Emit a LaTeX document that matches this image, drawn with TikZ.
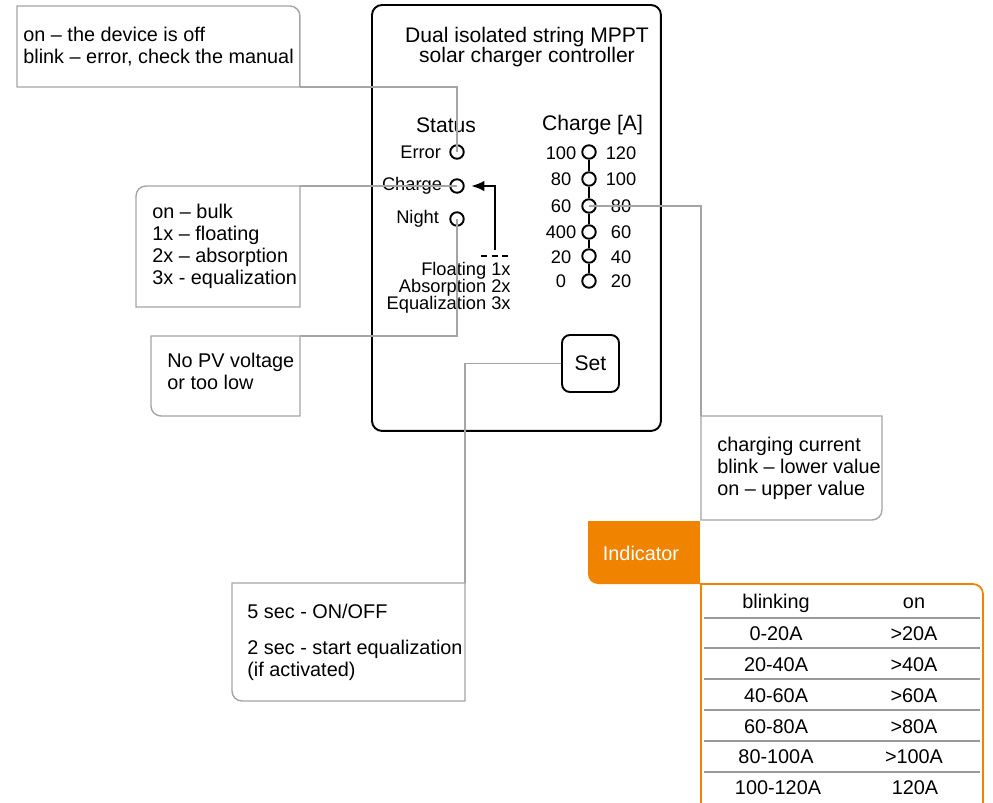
\documentclass[tikz,border=0pt]{standalone}
\usepackage{fontspec}
\setmainfont{Liberation Sans}
\usetikzlibrary{positioning,arrows.meta}
\definecolor{linkgray}{RGB}{165,165,165}
\definecolor{indorange}{RGB}{240,131,0}
\def\notefont{\fontsize{11.3}{12.5}\selectfont}
\def\ledfont{\fontsize{10.4}{12}\selectfont}
\def\titlefont{\fontsize{12}{11.3}\selectfont\lineskiplimit=-20pt\relax}
\def\modefont{\fontsize{10.4}{9.8}\selectfont\lineskiplimit=-20pt\relax}
\tikzset{
	device/.style={draw, line width=1.1pt, rounded corners=0.2cm, inner sep=0, outer sep=0},
	area/.style={inner sep=0, outer sep=0},
	note/.style={draw=linkgray, line width=0.8pt},
	link/.style={draw=linkgray, line width=0.8pt},
	notetext/.style={inner sep=0, align=left, anchor=west, font=\notefont},
	led/.style={draw, circle, line width=1.1pt, minimum size=0.27cm, inner sep=0},
	ledlabel/.style={inner sep=0, font=\ledfont},
	heading/.style={inner sep=0, font=\fontsize{12}{13}\selectfont},
	setbutton/.style={draw, line width=1.1pt, rounded corners=0.16cm, minimum size=1.14cm, inner sep=0, font=\fontsize{12}{13}\selectfont},
	cell/.style={inner sep=0, font=\notefont},
	rowline/.style={draw=gray!80, line width=0.8pt},
	tableline/.style={draw=indorange, line width=1pt}
}

\begin{document}
\begin{tikzpicture}[x=0.02cm, y=-0.02cm]
	\useasboundingbox (0,0) rectangle (993,802);

	% controller
	\node[device, minimum width=5.78cm, minimum height=8.52cm, anchor=north west] (dev) at (372,5) {};
	\node[heading, align=center, font=\titlefont] (title) at (527,47) {Dual isolated string MPPT\\solar charger controller};
	\node[heading] (status) at (446,125) {Status};
	\node[heading] (charge) at (592.5,125) {Charge [A]};

	\node[led] (err) at (457,152) {};
	\node[led] (chg) at (457,186) {};
	\node[led] (night) at (457,219) {};
	\node[ledlabel, left=0.16cm of err] (errlabel) {Error};
	\node[ledlabel, left=0.14cm of chg] (chglabel) {Charge};
	\node[ledlabel, left=0.2cm of night] (nightlabel) {Night};

	\node[ledlabel, align=right, anchor=east, font=\modefont] (modes) at (511,288) {Floating 1x\\Absorption 2x\\Equalization 3x};
	\draw[line width=0.9pt, dash pattern=on 3.4pt off 2.6pt] (481,256) -- (509,256);
	\coordinate (modefoot) at (495,250);
	\draw[-{Latex[length=7.5pt,width=6pt]}, line width=1.1pt, shorten >=0.13cm] (modefoot) |- (chg.east);

	% charge scale
	\node[led] (s1) at (589,152) {};
	\node[led] (s2) at (589,179) {};
	\node[led] (s3) at (589,206) {};
	\node[led] (s4) at (589,232) {};
	\node[led] (s5) at (589,256) {};
	\node[led] (s6) at (589,281) {};
	\draw[line width=0.9pt] (s1) -- (s2) (s2) -- (s3) (s3) -- (s4) (s4) -- (s5) (s5) -- (s6);
	\node[ledlabel] (l1) at (561,153) {100};
	\node[ledlabel] (l2) at (561,179) {80};
	\node[ledlabel] (l3) at (561,206) {60};
	\node[ledlabel] (l4) at (561,232) {400};
	\node[ledlabel] (l5) at (561,257) {20};
	\node[ledlabel] (l6) at (561,281) {0};
	\node[ledlabel] (r1) at (621,153) {120};
	\node[ledlabel] (r2) at (621,179) {100};
	\node[ledlabel] (r3) at (621,206) {80};
	\node[ledlabel] (r4) at (621,232) {60};
	\node[ledlabel] (r5) at (621,257) {40};
	\node[ledlabel] (r6) at (621,281) {20};

	\node[setbutton] (set) at (590.5,363.5) {Set};

	% notes
	\node[area, minimum width=5.66cm, minimum height=1.62cm, anchor=north west] (offbox) at (17,6) {};
	\node[notetext, right=0.12cm of offbox.west] (offtext) {on – the device is off\\blink – error, check the manual};
	\draw[note] (offbox.east) -- (offbox.south east) -- (offbox.south west) -- (offbox.north west) [rounded corners=0.2cm] -- (offbox.north east) -- (offbox.east);

	\node[area, minimum width=3.28cm, minimum height=2.42cm, anchor=north west] (bulkbox) at (136,186) {};
	\node[notetext, right=0.32cm of bulkbox.west] (bulktext) {on – bulk\\1x – floating\\2x – absorption\\3x - equalization};
	\draw[note] (bulkbox.north) -- (bulkbox.north east) -- (bulkbox.south east) -- (bulkbox.south west) [rounded corners=0.2cm] -- (bulkbox.north west) -- (bulkbox.north);

	\node[area, minimum width=2.98cm, minimum height=1.6cm, anchor=north west] (pvbox) at (151,336) {};
	\node[notetext, right=0.32cm of pvbox.west, yshift=0.1cm] (pvtext) {No PV voltage\\or too low};
	\draw[note] (pvbox.west) -- (pvbox.north west) -- (pvbox.north east) -- (pvbox.south east) [rounded corners=0.2cm] -- (pvbox.south west) -- (pvbox.west);

	\node[area, minimum width=3.62cm, minimum height=2.08cm, anchor=north west] (curbox) at (701,416) {};
	\node[notetext, right=0.32cm of curbox.west] (curtext) {charging current\\blink – lower value\\on – upper value};
	\draw[note] (curbox.south) -- (curbox.south west) -- (curbox.north west) -- (curbox.north east) [rounded corners=0.2cm] -- (curbox.south east) -- (curbox.south);

	\node[area, minimum width=4.66cm, minimum height=2.36cm, anchor=north west] (setbox) at (232,583) {};
	\node[notetext, right=0.3cm of setbox.west] (settext) {5 sec - ON/OFF\\[8pt]2 sec - start equalization\\(if activated)};
	\draw[note] (setbox.west) -- (setbox.north west) -- (setbox.north east) -- (setbox.south east) [rounded corners=0.2cm] -- (setbox.south west) -- (setbox.west);

	% connectors
	\draw[link] (offbox.south east) -| (err.center);
	\draw[link] (bulkbox.north east) -- (chg.center);
	\draw[link] (pvbox.north east) -| (night.center);
	\draw[link] (s3.center) -| (curbox.north west);
	\draw[link] (set.west) -| (setbox.north east);

	% indicator table
	\node[area, minimum width=2.24cm, minimum height=1.26cm, anchor=north west] (tab) at (588,521) {};
	\fill[indorange] (tab.west) -- (tab.north west) -- (tab.north east) -- (tab.south east) [rounded corners=0.2cm] -- (tab.south west) -- (tab.west);
	\node[cell, text=white] (tabtext) at (641,553) {Indicator};
	\draw[tableline] (701,812) -- (701,584) [rounded corners=0.2cm] -- (983,584) -- (983,812);

	\node[cell] (hb) at (776,603) {blinking};
	\node[cell] (ho) at (914,603) {on};
	\node[cell] (b1) at (776,634) {0-20A};
	\node[cell] (o1) at (914,634) {>20A};
	\node[cell] (b2) at (776,665) {20-40A};
	\node[cell] (o2) at (914,665) {>40A};
	\node[cell] (b3) at (776,696) {40-60A};
	\node[cell] (o3) at (914,696) {>60A};
	\node[cell] (b4) at (776,727) {60-80A};
	\node[cell] (o4) at (914,727) {>80A};
	\node[cell] (b5) at (776,757) {80-100A};
	\node[cell] (o5) at (914,757) {>100A};
	\node[cell] (b6) at (778,788) {100-120A};
	\node[cell] (o6) at (915,788) {120A};
	\draw[rowline] (704,618) -- (980,618);
	\draw[rowline] (704,648) -- (980,648);
	\draw[rowline] (704,679) -- (980,679);
	\draw[rowline] (704,710) -- (980,710);
	\draw[rowline] (704,741) -- (980,741);
	\draw[rowline] (704,772) -- (980,772);
\end{tikzpicture}
\end{document}
